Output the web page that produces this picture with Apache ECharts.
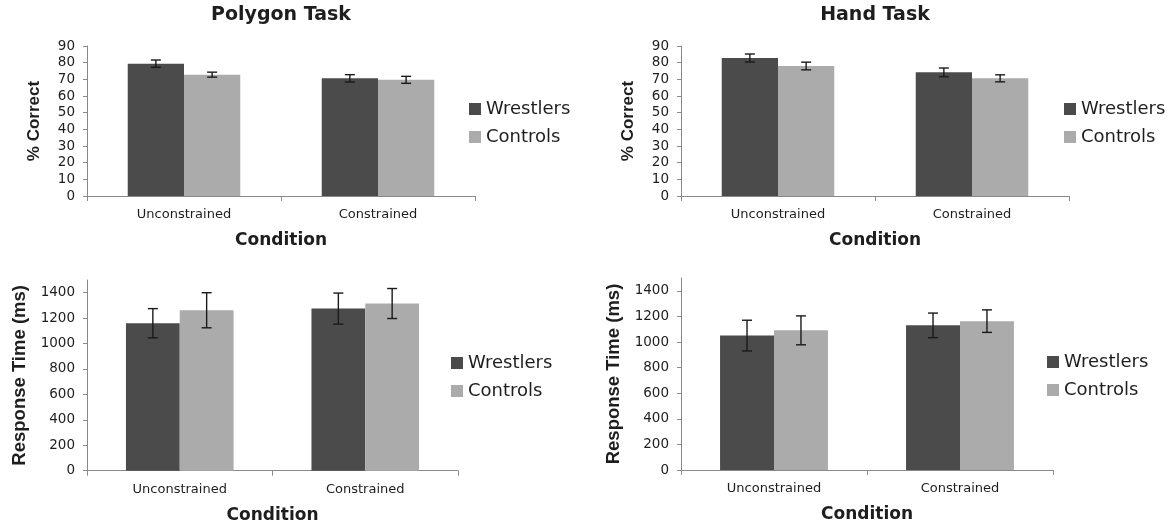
<!DOCTYPE html>
<html>
<head>
<meta charset="utf-8">
<script src="https://cdn.jsdelivr.net/npm/echarts@6/dist/echarts.min.js"></script>
<style>html,body{margin:0;padding:0;background:#fff}#c{width:1172px;height:526px}</style>
</head>
<body>
<div id="c"></div>
<script>
// ---- data ----
const categories = ['Unconstrained', 'Constrained'];
const seriesNames = ['Wrestlers', 'Controls'];
const titles = ['Polygon Task', 'Hand Task'];

const polyAccWrestlers = [79.4, 70.6];
const polyAccWrestlersErr = [2.2, 2.2];
const polyAccControls = [72.8, 69.7];
const polyAccControlsErr = [1.5, 2.1];

const handAccWrestlers = [82.8, 74.2];
const handAccWrestlersErr = [2.4, 2.6];
const handAccControls = [78.0, 70.6];
const handAccControlsErr = [2.3, 2.1];

const polyRtWrestlers = [1160, 1275];
const polyRtWrestlersErr = [115, 122];
const polyRtControls = [1262, 1315];
const polyRtControlsErr = [138, 118];

const handRtWrestlers = [1050, 1130];
const handRtWrestlersErr = [120, 96];
const handRtControls = [1091, 1163];
const handRtControlsErr = [113, 88];

const accAxis = { min: 0, max: 90, interval: 10, name: '% Correct' };
const rtAxis = { min: 0, max: 1500, interval: 200, name: 'Response Time (ms)' };
const xAxisName = 'Condition';

// ---- styling ----
const darkColor = '#4b4b4b';
const lightColor = '#ababab';
const axisColor = '#8a8a8a';
const textColor = '#1e1e1e';
const gapPct = 0.42;
const F = 'DejaVu Sans';

const grids = [
  { left: 87, top: 46, width: 388, height: 150 },
  { left: 681, top: 46, width: 388, height: 150 },
  { left: 87, top: 280, width: 371, height: 190.7 },
  { left: 681, top: 278, width: 372, height: 192 }
];
const legendPos = [
  { left: 469, top: 100 },
  { left: 1064, top: 100 },
  { left: 451, top: 354 },
  { left: 1047, top: 353 }
];
const panels = [
  { ax: accAxis, w: polyAccWrestlers, we: polyAccWrestlersErr, c: polyAccControls, ce: polyAccControlsErr, yGap: 44, yFont: 17 },
  { ax: accAxis, w: handAccWrestlers, we: handAccWrestlersErr, c: handAccControls, ce: handAccControlsErr, yGap: 44, yFont: 17 },
  { ax: rtAxis, w: polyRtWrestlers, we: polyRtWrestlersErr, c: polyRtControls, ce: polyRtControlsErr, yGap: 58, yFont: 18.5 },
  { ax: rtAxis, w: handRtWrestlers, we: handRtWrestlersErr, c: handRtControls, ce: handRtControlsErr, yGap: 58, yFont: 18.5 }
];

function errRender(side) {
  return function (params, api) {
    const idx = api.value(0), v = api.value(1), e = api.value(2);
    const center = api.coord([idx, v]);
    const catW = api.size([1, 0])[0];
    const barW = catW * (1 - gapPct) / 2;
    const x = center[0] + side * barW / 2;
    const yt = api.coord([idx, v + e])[1];
    const yb = api.coord([idx, v - e])[1];
    const hw = 5;
    const st = { stroke: '#1a1a1a', lineWidth: 1.4 };
    return {
      type: 'group',
      children: [
        { type: 'line', shape: { x1: x, y1: yt, x2: x, y2: yb }, style: st },
        { type: 'line', shape: { x1: x - hw, y1: yt, x2: x + hw, y2: yt }, style: st },
        { type: 'line', shape: { x1: x - hw, y1: yb, x2: x + hw, y2: yb }, style: st }
      ]
    };
  };
}

const option = {
  animation: false,
  backgroundColor: '#fff',
  title: [
    { text: titles[0], left: 281, top: 6, textAlign: 'center', padding: 0,
      textStyle: { fontFamily: F, fontWeight: 'bold', fontSize: 19, color: textColor } },
    { text: titles[1], left: 875, top: 6, textAlign: 'center', padding: 0,
      textStyle: { fontFamily: F, fontWeight: 'bold', fontSize: 19, color: textColor } }
  ],
  grid: grids.map(g => Object.assign({ containLabel: false }, g)),
  legend: legendPos.map(p => ({
    left: p.left, top: p.top, orient: 'vertical', padding: 0,
    itemWidth: 12, itemHeight: 12, itemGap: 10, icon: 'rect',
    data: seriesNames,
    textStyle: { fontFamily: F, fontSize: 18, color: textColor, lineHeight: 18, padding: [0, 0, 0, 0] }
  })),
  xAxis: panels.map((p, i) => ({
    type: 'category', gridIndex: i, data: categories,
    name: xAxisName, nameLocation: 'middle', nameGap: 36,
    nameTextStyle: { fontFamily: F, fontWeight: 'bold', fontSize: 17, color: textColor },
    axisLine: { lineStyle: { color: axisColor, width: 1 } },
    axisTick: { show: true, length: 5, lineStyle: { color: axisColor } },
    axisLabel: { fontFamily: F, fontSize: 13, color: textColor, margin: 12 },
    splitLine: { show: false }
  })),
  yAxis: panels.map((p, i) => ({
    type: 'value', gridIndex: i, min: p.ax.min, max: p.ax.max, interval: p.ax.interval,
    name: p.ax.name, nameLocation: 'middle', nameGap: p.yGap, nameRotate: 90,
    nameTextStyle: { fontFamily: 'Liberation Sans', fontWeight: 'bold', fontSize: p.yFont, color: textColor },
    axisLine: { show: true, lineStyle: { color: axisColor, width: 1 } },
    axisTick: { show: true, length: 4, lineStyle: { color: axisColor } },
    axisLabel: { fontFamily: F, fontSize: 13.5, color: textColor, margin: 12,
      showMaxLabel: p.ax.max % p.ax.interval === 0,
      formatter: v => String(v) },
    splitLine: { show: false }
  })),
  series: []
};

panels.forEach((p, i) => {
  option.series.push({
    name: seriesNames[0], type: 'bar', xAxisIndex: i, yAxisIndex: i,
    data: p.w, barGap: '0%', barCategoryGap: (gapPct * 100) + '%',
    itemStyle: { color: darkColor }
  });
  option.series.push({
    name: seriesNames[1], type: 'bar', xAxisIndex: i, yAxisIndex: i,
    data: p.c, barGap: '0%', barCategoryGap: (gapPct * 100) + '%',
    itemStyle: { color: lightColor }
  });
  option.series.push({
    name: seriesNames[0] + ' err', type: 'custom', xAxisIndex: i, yAxisIndex: i, z: 5,
    renderItem: errRender(-1),
    data: p.w.map((v, k) => [k, v, p.we[k]])
  });
  option.series.push({
    name: seriesNames[1] + ' err', type: 'custom', xAxisIndex: i, yAxisIndex: i, z: 5,
    renderItem: errRender(1),
    data: p.c.map((v, k) => [k, v, p.ce[k]])
  });
});

const chart = echarts.init(document.getElementById('c'), null, { renderer: 'canvas' });
chart.setOption(option);
</script>
</body>
</html>
